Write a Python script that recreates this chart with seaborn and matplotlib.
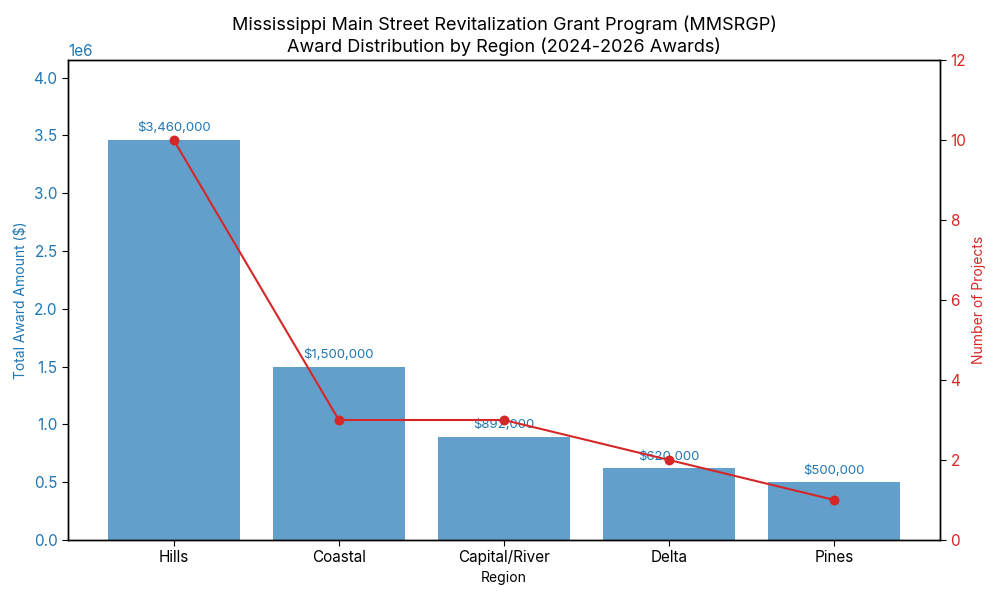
import matplotlib
matplotlib.use("Agg")
import matplotlib.pyplot as plt
import seaborn as sns
import pandas as pd

# datos del gráfico
regiones = ["Hills", "Coastal", "Capital/River", "Delta", "Pines"]
montos = [3460000, 1500000, 892000, 620000, 500000]
proyectos = [10, 3, 3, 2, 1]

sns.set_style("white")
plt.rcParams["font.family"] = ["Inter", "DejaVu Sans"]
plt.rcParams["text.color"] = "black"
plt.rcParams["axes.labelcolor"] = "black"
plt.rcParams["xtick.color"] = "black"
plt.rcParams["ytick.color"] = "black"

df = pd.DataFrame({"Region": regiones, "Monto": montos, "Proyectos": proyectos})

fig, ax = plt.subplots(figsize=(10, 6), dpi=100)
sns.barplot(data=df, x="Region", y="Monto", color="tab:blue", alpha=0.7,
            saturation=1, width=0.8, linewidth=0, ax=ax)

for barra, valor in zip(ax.patches, montos):
    ax.annotate(f"${valor:,.0f}", (barra.get_x() + barra.get_width() / 2, barra.get_height()),
                xytext=(0, 4), textcoords="offset points", ha="center", va="bottom",
                fontsize=9.5, color="tab:blue")

ax.set_ylim(0, max(montos) * 1.2)
ax.set_ylabel("Total Award Amount ($)", color="tab:blue", fontsize=10)
ax.set_xlabel("Region", fontsize=10)
ax.tick_params(axis="y", labelcolor="tab:blue", labelsize=11, left=True, length=4)
ax.tick_params(axis="x", labelsize=11, bottom=True, length=4)
ax.yaxis.get_offset_text().set_color("tab:blue")
ax.yaxis.get_offset_text().set_fontsize(11)

ax2 = ax.twinx()
sns.pointplot(data=df, x="Region", y="Proyectos", color="tab:red", markers="o",
              linewidth=1.5, markersize=6, ax=ax2)
ax2.set_ylim(0, 12)
ax2.set_ylabel("Number of Projects", color="tab:red", fontsize=10)
ax2.tick_params(axis="y", labelcolor="tab:red", labelsize=11, right=True, length=4)
ax.set_xlim(-0.64, 4.64)

for eje in (ax, ax2):
    for s in eje.spines.values():
        s.set_color("black")
        s.set_linewidth(1)

ax.set_title("Mississippi Main Street Revitalization Grant Program (MMSRGP)\n"
             "Award Distribution by Region (2024-2026 Awards)", fontsize=13)

fig.subplots_adjust(left=0.068, right=0.94, top=0.9, bottom=0.1)
fig.savefig("out.png", dpi=100)
